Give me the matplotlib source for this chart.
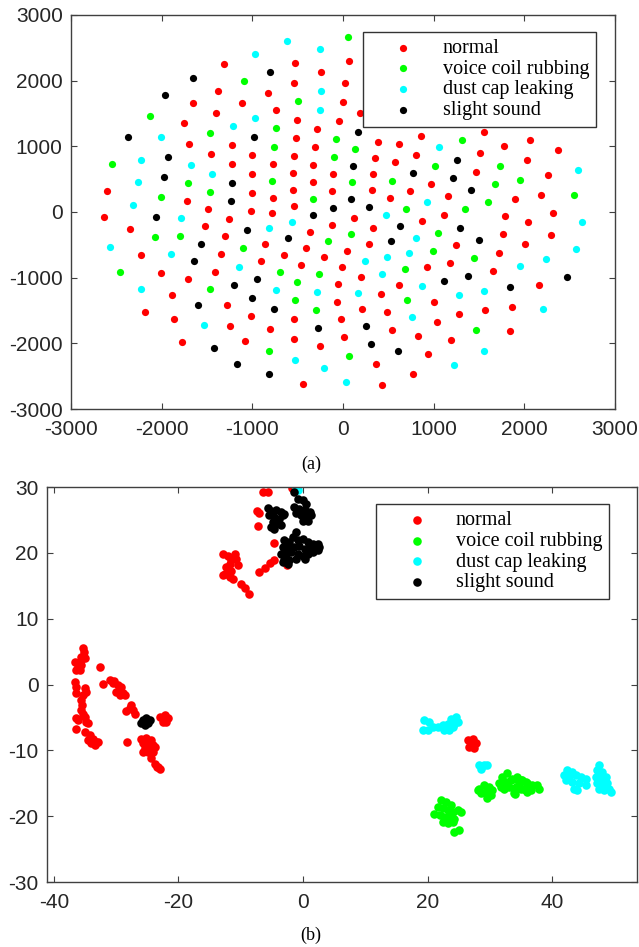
import matplotlib
matplotlib.use('Agg')
import matplotlib.pyplot as plt

plt.rcParams['axes.unicode_minus'] = False

# ---- panel (a) data ----
a_normal_x = [-1315, -527, 62, -238, -535, 26, -1374, -828, -1656, -1110, -4, -1396, -736, -1751, -502, -48,
              -286, -1703, -1227, -513, -304, -1458, -1000, -538, -1223, -777, -326, -1004, -553, -114, -333,
              -2601, -1004, -553, -117, -1725, -777,
              187, 381, 619, 857, 1553, 1773, 2066, 2377, 355, 579, 810, 1509, 2029, 333, 971, 1462, 2260,
              315, 516, 744, 1158, 1901, 2180,
              -1487, -1018, -542, -2641, -780, -2348, -1527, -1260, -117, -366, -2223, -1304, -861, -656,
              -410, -209, 40, -2011, -1348, -908, -458, -11, -1890, -1714, -1414, -55, -62, -2183, -1861,
              -1278, -1015, -538, -1249, -810, -26, -1777, -1077, -538, -253, 11, -440,
              117, 872, 1110, 1788, 2044, 2315, 330, 1769, 2289, 289, 1245, 2007, 1183, 1725, 194, 927, 1656,
              414, 619, 1000, 2158, 212, 487, 1037, 1275, 1568, 1868, 542, 832, 1187, 1846, 938, 359, 773, 429]
a_normal_y = [2246, 2266, 2292, 2134, 1962, 1967, 1840, 1805, 1653, 1663, 1673, 1506, 1551, 1359, 1399, 1384,
              1257, 1039, 1019, 1126, 984, 887, 862, 857, 730, 725, 720, 583, 593, 578, 456,
              324, 289, 340, 319, 172, 208,
              1501, 1070, 1034, 1156, 1212, 1009, 1095, 943, 826, 755, 867, 902, 786, 583, 426, 613, 563,
              330, 208, 319, 248, 193, 254,
              46, 10, 91, -76, -20, -259, -218, -106, -198, -304, -659, -370, -482, -649,
              -542, -690, -588, -923, -644, -740, -801, -831, -1268, -1024, -908, -1090, -1364, -1526, -1622,
              -1420, -1582, -1633, -1729, -1785, -1627, -1987, -1967, -1927, -2048, -1901, -2621,
              -86, -137, -41, -56, -152, -20, -243, -335, -355, -487, -507, -492, -776, -619, -989, -842, -902,
              -1252, -1110, -1369, -1115, -1475, -1516, -1673, -1546, -1496, -1450, -1795, -1886, -1947, -1815,
              -2170, -2322, -2469, -2636]

a_coil_x = [55, -1095, -498, -2125, -1469, -744, -758, -77, -2553, -95, -1711, -788, -2007, -1462, -326,
            132, 1308, 1011, 1736, 103, 546, 1674, 1949, 1601, 2549,
            -2073, -1795, -161, -1106, -2454, -700, -260, -1462, -502, -524, -297, -817, 62,
            700, 1348, 88, 1048, 989, 1447, 685, 711, 1465]
a_coil_y = [2667, 1987, 1688, 1455, 1207, 1278, 994, 1105, 725, 842, 436, 466, 228, 304, 198,
            958, 1090, 705, 705, 451, 477, 421, 487, 147, 259,
            -380, -360, -441, -542, -908, -908, -943, -1176, -1065, -1344, -1496, -2114, -2200,
            46, 46, -340, -319, -588, -700, -867, -1344, -1790]

a_dust_x = [-619, -253, -974, -245, -256, -971, -1209, -2011, -2223, -1681, -1447, -2264, -2315,
            1055, 2590, 930,
            -1784, -817, -564, -2571, -1897, -1147, -2227, -740, -289, -1535, -524, -212, 37,
            473, 2634, 806, 2575, 242, 480, 729, 2234, 429, 1949, 168, 872, 1275, 1557, 2205, 766, 1557, 1227]
a_dust_y = [2596, 2479, 2413, 1835, 1546, 1430, 1308, 1141, 791, 720, 583, 451, 112,
            984, 634, 152,
            -86, -248, -157, -532, -639, -831, -1171, -1186, -1222, -1714, -2251, -2368, -2596,
            -51, -152, -390, -568, -740, -690, -619, -715, -943, -826, -1227, -1120, -1268, -1207, -1480,
            -1602, -2119, -2337]

a_slight_x = [-810, -1652, -1967, -2370, -985, -1934, -1971, -1220, -1234,
              161, 114, 1253, 773, 1209, 88, 1407,
              -106, -2062, -330, -1059, -608, -1564, -1641, -1198, -945, -1000, -1604, -762, -278, -1418,
              -1165, -821,
              286, 626, 1293, 527, 1502, 1114, 1377, 1846, 2469, 256, 311, 608]
a_slight_y = [2124, 2043, 1780, 1136, 1141, 842, 537, 436, 162,
              1222, 705, 796, 593, 522, 193, 335,
              56, -71, -51, -269, -401, -487, -750, -1115, -1019, -1303, -1415, -1470, -1764, -2074,
              -2322, -2474,
              81, -218, -238, -436, -426, -1044, -979, -1141, -984, -1729, -2008, -2124]

# ---- panel (b) data ----
b_normal_x = [-6.45, -5.65, -1.8, -7.0, -7.4, -7.2, -4.7, -4.6, -5.3, -6.1, -7.1, -2.6,
              -12.9, -12.1, -11.0, -10.7, -11.5, -11.8, -10.5, -12.3, -11.5, -12.6, -11.8, -11.3, -12.9, -12.1,
              -9.9, -9.4, -8.7,
              -35.3, -35.1, -35.6, -35.3, -36.6, -35.8, -35.0, -36.1, -35.6, -36.4, -35.8, -32.6,
              -36.6, -36.5, -36.4, -35.0, -34.9, -35.3,
              -35.6, -35.5, -35.7, -35.3, -35.0, -36.1, -34.8, -34.5, -36.4,
              -36.5, -35.0, -34.2, -33.7, -34.5, -34.0, -33.2, -32.9, -33.4,
              -32.1, -31.0, -30.3, -29.7, -29.2, -29.96, -28.9, -29.4, -28.6, -30.5,
              -27.55, -27.8, -27.3, -28.4, -27.0,
              -23.0, -22.2, -21.7, -22.5, -22.0, -28.2,
              -25.95, -25.15, -24.35, -25.7, -24.9, -24.1, -25.4, -24.6, -23.8, -25.7, -24.9, -24.1,
              -24.35, -23.8, -23.3, -23.4, -23.0,
              26.4, 27.2, 26.7, 27.5, 27.7, 26.9]
b_normal_y = [29.2, 29.2, 29.9, 26.1, 26.3, 24.1, 21.5, 18.9, 18.45, 17.7, 17.1, 18.1,
              19.9, 19.6, 19.9, 19.1, 18.9, 18.35, 18.2, 17.8, 17.3, 16.8, 16.3, 16.1, 16.6, 17.1,
              15.3, 14.6, 13.8,
              5.5, 5.0, 4.2, 3.97, 3.46, 3.46, 4.0, 2.7, 2.95, 2.2, 2.2, 2.7,
              0.42, -0.34, -1.35, -0.6, -1.1, -1.6,
              -2.37, -3.1, -3.9, -4.4, -4.9, -5.4, -5.66, -5.9, -5.15,
              -6.8, -7.2, -7.7, -8.2, -8.45, -8.95, -8.7, -8.7, -9.2,
              0.02, 0.67, 0.52, -0.09, -0.34, -1.1, -1.35, -1.6, -1.6, 0.2,
              -3.1, -3.6, -3.9, -4.04, -4.4,
              -4.9, -4.65, -5.15, -5.66, -5.66, -8.7,
              -8.2, -8.1, -8.45, -8.95, -8.95, -9.2, -9.7, -9.7, -9.46, -10.2, -10.2, -10.2,
              -11.2, -12.0, -12.5, -12.6, -12.9,
              -8.45, -8.2, -9.46, -9.7, -8.95, -8.95]

b_coil_x = [28.27, 29.07, 29.87, 30.4, 28.5, 29.3, 30.1, 29.6, 28.0,
            32.8, 32.0, 31.5, 32.5, 33.3, 34.1, 34.95, 35.75, 32.3, 33.1, 33.9, 34.7, 35.5, 34.0, 36.0, 31.7,
            33.6, 34.4, 35.2, 36.0, 36.8, 37.6, 34.15, 34.95, 35.75, 36.55, 33.9, 37.9,
            22.1, 22.9, 23.7, 21.6, 22.4, 23.2, 24.0, 24.8, 25.3, 21.05, 21.9, 22.66, 23.46, 24.26,
            22.4, 23.2, 24.0, 24.26, 25.06]
b_coil_y = [-15.8, -15.3, -15.5, -16.05, -16.55, -16.3, -16.8, -17.3, -16.05,
            -13.5, -14.0, -15.0, -14.8, -14.5, -14.3, -14.5, -14.8, -15.8, -15.5, -15.8, -15.3, -15.8, -16.7,
            -16.3, -15.5,
            -14.3, -14.0, -14.5, -15.0, -15.3, -15.3, -15.5, -15.8, -16.05, -16.05, -16.55, -15.8,
            -17.57, -17.8, -18.3, -18.6, -18.8, -19.1, -19.3, -19.1, -19.3, -19.6, -19.85, -20.1, -20.1, -20.35,
            -20.9, -21.1, -20.9, -22.4, -22.1]

b_dust_x = [-1.2, -0.8,
            19.45, 20.25, 19.2, 19.99, 20.8, 21.6, 22.39, 23.19, 23.7, 24.5, 24.26, 23.46, 22.66, 23.99, 24.8,
            28.27, 29.07, 29.6, 28.5,
            42.43, 43.23, 41.89, 42.7, 43.76, 44.57, 45.37, 42.16, 43.23, 44.3, 45.37, 43.5, 44.03,
            47.5, 47.2, 48.0, 46.97, 47.77, 48.57, 47.2, 48.0, 48.84, 49.1, 48.3, 47.5, 49.37]
b_dust_y = [29.75, 29.6,
            -5.41, -5.66, -6.93, -6.93, -6.42, -6.42, -6.17, -5.92, -5.16, -4.9, -5.92, -6.93, -6.93, -6.42,
            -5.66,
            -12.25, -12.25, -12.15, -12.76,
            -13.0, -13.26, -13.77, -14.0, -13.77, -14.0, -14.3, -14.5, -14.8, -15.0, -15.3, -15.8, -16.05,
            -12.25, -13.0, -13.26, -14.0, -14.3, -14.0, -15.0, -15.3, -15.0, -15.8, -16.05, -15.8, -16.3]

b_slight_x = [-1.5,
              -5.65, -5.1, -4.3, -3.5, -3.0, -5.4, -4.6, -3.8, -3.2, -4.85, -4.3, -5.1, -4.6, -3.5,
              -0.84, -0.04, 0.5, -1.38, -0.6, 0.23, 1.03, -1.1, -0.3, 0.5, 1.3, -0.04, 0.76,
              -1.1, -1.6, -3.0, -2.2, -0.84, -0.04, 0.76, 1.56, 2.36, -3.2, -2.4, -1.4, -0.6, 0.23, 1.03, 1.83,
              2.63, -3.5, -2.7, -1.9, -0.84, -0.04, 0.76, 1.56, 2.36, -3.0, -2.2, -1.1, 0.23, -2.4, -3.2,
              -25.7, -25.15, -24.6, -25.4, -24.9, -25.95]
b_slight_y = [29.2,
              26.8, 26.3, 26.45, 26.2, 25.95, 25.7, 25.4, 25.2, 25.7, 24.7, 24.4, 23.9, 23.7, 24.2,
              28.2, 28.0, 27.5, 27.0, 26.7, 26.5, 26.2, 26.0, 25.7, 25.4, 25.7, 24.9, 24.9,
              23.2, 22.4, 21.9, 21.6, 21.9, 22.15, 21.6, 21.4, 21.4, 20.9, 20.6, 20.9, 21.1, 20.6, 20.6, 20.9,
              20.9, 19.9, 19.9, 20.1, 19.9, 19.6, 19.9, 20.1, 20.4, 18.9, 18.9, 19.1, 19.1, 18.35, 18.6,
              -5.4, -5.15, -5.4, -6.2, -5.9, -5.9]

labels = ['normal', 'voice coil rubbing', 'dust cap leaking', 'slight sound']
colors = ['#ff0000', '#00ff00', '#00ffff', '#000000']


def style_axes(ax):
    for sp in ax.spines.values():
        sp.set_color('#404040')
        sp.set_linewidth(1.0)
    ax.tick_params(direction='in', length=4, width=0.8, color='#404040',
                   top=True, right=True, labelsize=15, labelcolor='#262626')
    ax.tick_params(axis='x', pad=8)
    ax.tick_params(axis='y', pad=6)
    for lab in ax.get_xticklabels() + ax.get_yticklabels():
        lab.set_family('Liberation Sans')


def add_legend(ax, anchor):
    leg = ax.legend(loc='upper left', bbox_to_anchor=anchor, prop={'family': 'Liberation Serif', 'size': 14.5},
                    fancybox=False, framealpha=1, edgecolor='#333333', handlelength=3.3,
                    handletextpad=0.3, borderpad=0.35, labelspacing=0.08, borderaxespad=0)
    leg.get_frame().set_linewidth(1.0)


fig = plt.figure(figsize=(6.39, 9.47), dpi=100)

ax1 = fig.add_axes([0.1111, 0.5681, 0.8513, 0.4161])
sets_a = [(a_normal_x, a_normal_y), (a_coil_x, a_coil_y), (a_dust_x, a_dust_y), (a_slight_x, a_slight_y)]
for (xs, ys), c, lab in zip(sets_a, colors, labels):
    ax1.scatter(xs, ys, s=27, color=c, label=lab, linewidths=0)
ax1.set_xlim(-3000, 3000)
ax1.set_ylim(-3000, 3000)
ax1.set_xticks(range(-3000, 3001, 1000))
ax1.set_yticks(range(-3000, 3001, 1000))
style_axes(ax1)
add_legend(ax1, (0.537, 0.957))

ax2 = fig.add_axes([0.0736, 0.0686, 0.9233, 0.4171])
sets_b = [(b_normal_x, b_normal_y), (b_coil_x, b_coil_y), (b_dust_x, b_dust_y), (b_slight_x, b_slight_y)]
for (xs, ys), c, lab in zip(sets_b, colors, labels):
    ax2.scatter(xs, ys, s=38, color=c, label=lab, linewidths=0)
ax2.set_xlim(-41.1, 53.6)
ax2.set_ylim(-30, 30)
ax2.set_xticks([-40, -20, 0, 20, 40])
ax2.set_yticks([-30, -20, -10, 0, 10, 20, 30])
style_axes(ax2)
add_legend(ax2, (0.558, 0.957))

fig.text(311 / 639, 1 - 464 / 947, '(a)', ha='center', va='center', family='Liberation Serif', size=13)
fig.text(311 / 639, 1 - 935 / 947, '(b)', ha='center', va='center', family='Liberation Serif', size=13)

fig.savefig('out.png', dpi=100)
